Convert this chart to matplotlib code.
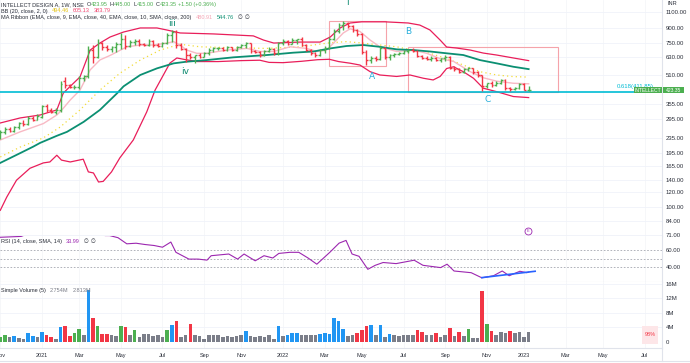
import numpy as np
import pandas as pd
import matplotlib
matplotlib.use("Agg")
import matplotlib.pyplot as plt
from matplotlib.collections import LineCollection
from matplotlib.patches import Rectangle
from matplotlib.lines import Line2D
from matplotlib.ticker import FixedLocator, FixedFormatter, NullLocator, NullFormatter

plt.rcParams['font.family'] = ['Liberation Sans', 'DejaVu Sans']

# ---------------------------------------------------------------- data
# weekly bars, first bar = week of 2020-11-02
first_week = '2020-11-02'

opens = [236, 252, 262, 254, 266, 282, 276, 300, 293, 304,
         345, 330, 322, 328, 470, 446, 436, 440, 490, 500,
         690, 632, 750, 712, 700, 715, 745, 790, 728, 760,
         770, 740, 735, 768, 735, 725, 752, 830, 860, 735,
         700, 648, 632, 645, 636, 664, 690, 705, 708, 690,
         712, 692, 715, 735, 750, 680, 672, 645, 680, 700,
         665, 750, 770, 745, 775, 785, 735, 690, 662, 645,
         690, 710, 790, 870, 935, 965, 925, 880, 840, 672,
         610, 625, 615, 705, 632, 645, 655, 665, 680, 692,
         685, 640, 628, 620, 625, 610, 622, 635, 555, 545,
         528, 545, 550, 525, 505, 445, 458, 450, 462, 478,
         430, 425, 432, 452, 423.95]
highs = [258, 266, 268, 272, 286, 290, 308, 306, 312, 352,
         356, 338, 336, 470, 495, 455, 450, 500, 510, 720,
         730, 785, 765, 735, 725, 760, 850, 830, 780, 790,
         785, 755, 790, 775, 748, 760, 850, 885, 880, 750,
         705, 665, 650, 664, 672, 705, 715, 715, 712, 725,
         718, 722, 740, 760, 755, 690, 680, 690, 712, 708,
         760, 785, 775, 795, 790, 805, 745, 700, 672, 700,
         720, 805, 890, 960, 985, 975, 935, 895, 850, 690,
         640, 640, 720, 712, 655, 662, 672, 690, 700, 705,
         692, 650, 640, 640, 632, 628, 645, 640, 565, 552,
         552, 560, 555, 530, 510, 462, 468, 470, 485, 482,
         440, 440, 458, 460, 445]
lows = [230, 244, 250, 250, 262, 272, 274, 288, 290, 300,
        322, 316, 314, 322, 432, 430, 425, 428, 470, 490,
        590, 625, 690, 680, 675, 670, 700, 700, 712, 735,
        720, 725, 728, 718, 712, 715, 745, 760, 706, 690,
        595, 620, 590, 628, 630, 648, 675, 690, 680, 685,
        680, 685, 705, 705, 665, 662, 630, 640, 672, 648,
        650, 730, 730, 738, 745, 720, 680, 650, 630, 640,
        665, 700, 780, 850, 880, 905, 860, 820, 660, 570,
        585, 605, 610, 620, 612, 630, 645, 655, 662, 675,
        630, 615, 612, 605, 602, 598, 605, 545, 535, 520,
        520, 530, 515, 495, 418, 430, 440, 445, 455, 420,
        418, 420, 428, 420, 415]
closes = [252, 262, 254, 268, 282, 276, 300, 293, 306, 345,
          330, 322, 328, 455, 446, 436, 440, 490, 500, 690,
          632, 750, 712, 700, 715, 745, 790, 728, 760, 770,
          740, 735, 768, 735, 725, 752, 830, 860, 735, 700,
          648, 632, 645, 636, 664, 690, 705, 708, 690, 712,
          692, 715, 735, 750, 680, 672, 645, 680, 700, 665,
          750, 770, 745, 775, 785, 735, 690, 662, 645, 690,
          710, 790, 870, 935, 965, 925, 880, 840, 672, 610,
          625, 615, 705, 632, 645, 655, 665, 680, 692, 685,
          640, 628, 620, 625, 610, 622, 635, 555, 545, 528,
          545, 550, 525, 505, 445, 458, 450, 462, 478, 430,
          425, 432, 452, 421.85, 423.35]

# volume in millions, colour kind: g=green r=red b=blue k=grey
vol_m = [1.3, 1.8, 1.3, 1.6, 1.2, 0.9, 2.5, 1.6, 1.3, 2.7,
         1.8, 1.3, 0.9, 4.2, 4.4, 1.6, 2.4, 3.7, 2.0, 14.4,
         6.7, 4.3, 2.2, 2.2, 1.8, 1.6, 4.4, 4.0, 2.0, 3.3,
         1.3, 2.2, 2.2, 1.6, 1.8, 1.3, 3.3, 4.6, 5.8, 1.3,
         1.8, 4.9, 1.8, 1.6, 0.9, 2.0, 1.8, 2.0, 1.3, 1.6,
         1.3, 1.6, 1.8, 3.1, 1.6, 1.3, 1.6, 1.3, 2.0, 0.9,
         4.3, 1.6, 2.0, 2.4, 2.4, 2.0, 2.0, 2.0, 1.8, 2.2,
         2.4, 2.2, 6.7, 5.7, 3.6, 1.6, 2.0, 2.5, 3.4, 4.3,
         4.6, 2.0, 4.6, 1.3, 2.2, 1.8, 1.6, 1.8, 1.8, 2.0,
         3.3, 2.8, 2.0, 1.8, 2.5, 1.3, 2.0, 3.8, 1.6, 2.7,
         1.6, 3.6, 1.2, 1.1, 14.0, 5.1, 2.9, 1.8, 2.8, 2.5,
         3.1, 2.5, 2.8, 1.3, 2.8]
vol_kind = list("ggkbkkbbkb" "rrkbrrggkb" "rgrrkkgrkg" "kkkkkkgbrk"
                "krkkkkkkkk" "kkkbkkkkkk" "bkbbbkkkkb" "bbbbbkkrrr"
                "bkbkbkkkkk" "rrkkrkkrkr" "kgkkrgrkkk" "rkkkk")

# indicator lines (bar index, value)
bb_up_x = [0, 4.3, 8.6, 12.2, 13.6, 17.2, 19.4, 21.5, 23.7, 26.6, 30.2, 33.8, 35.9, 38.8,
           46, 54.6, 56.8, 59, 64.7, 69, 71.2, 73.3, 75.5, 78, 83, 88, 90.5, 92.7,
           94.9, 96.3, 98.5, 101.4, 104.2, 107.1, 110.7, 114]
bb_up_y = [281, 299, 310, 330, 406, 495, 689, 751, 809, 860, 904, 904, 882, 850,
           840, 820, 779, 751, 760, 760, 809, 904, 961, 975, 975, 961, 937, 882,
           779, 715, 706, 689, 664, 648, 625, 605]
bb_dn_x = [0, 1.4, 3.5, 6.4, 9.3, 10.7, 12.2, 13.2, 15.1, 17.9, 19, 20.1, 21.2, 22.2, 24,
           25.8, 28.7, 31.6, 33.4, 36.6, 38.1, 40, 42.5, 47, 52, 56, 58, 61, 65, 68.5,
           71, 73, 75.5, 77.6, 79.8, 81.9, 85.5, 88.4, 91.3, 93.4, 94.9, 96.3, 97.8,
           99.9, 102.1, 104.2, 107.1, 110.7, 114]
bb_dn_y = [96, 113, 139, 161, 172, 174, 189, 178, 174, 180, 154, 152, 136, 137, 154,
           183, 228, 322, 421, 587, 625, 612, 598, 598, 605, 608, 592, 590, 600, 612,
           615, 598, 586, 573, 528, 507, 498, 507, 487, 477, 498, 549, 561,
           528, 487, 431, 413, 389, 384]
bb_mid_x = [0, 4.3, 9.3, 12.9, 17.2, 21.5, 25.8, 30.2, 34.5, 38.8, 43.1, 50.3, 57.5, 64.7,
            71.2, 74.7, 78.3, 81.9, 85.5, 89.1, 92.7, 96.3, 99.9, 103.5, 107.1, 110.7, 114]
bb_mid_y = [185, 209, 234, 267, 330, 421, 518, 609, 689, 740, 717, 709, 703, 717,
            754, 764, 750, 733, 717, 689, 662, 620, 573, 528, 507, 497, 494]
ema9_x = [0, 4.3, 9.3, 12.2, 13.3, 15.1, 17.2, 19.4, 21.5, 23.7, 27.3, 30.2, 33, 35.9, 37.4,
          38.8, 40.2, 42.4, 44.5, 48.9, 53.2, 56.1, 59, 62.5, 66.1, 68.3, 70.4, 71.9, 74,
          75.5, 77.6, 79.8, 81.9, 85.5, 89.1, 92, 94.9, 97.8, 101.4, 104.2, 107.1, 110.7, 114]
ema9_y = [228, 252, 279, 310, 330, 373, 421, 540, 610, 645, 717, 733, 733, 750, 764,
          733, 689, 662, 662, 689, 703, 677, 677, 717, 703, 677, 689, 750, 850,
          895, 866, 779, 717, 677, 689, 662, 620, 599, 528, 490, 470, 458, 455]
ema40_x = [0, 4.3, 7.1, 8.6, 12.2, 14.4, 18, 21.5, 25.2, 26.6, 30.2, 33.8, 37.4, 40.2, 44.5,
           50.3, 57.5, 63.2, 67.6, 71.2, 74.7, 78.3, 81.9, 85.5, 89.1, 92.7, 96.3, 99.9,
           103.5, 107.1, 110.7, 114]
ema40_y = [172, 194, 210, 220, 240, 252, 285, 330, 405, 441, 507, 550, 585, 597, 609,
           630, 648, 667, 677, 703, 724, 733, 717, 695, 689, 677, 662, 648,
           609, 585, 561, 545]
rsi_x = [0, 4.5, 7.3, 12.2, 18.7, 22.6, 23.6, 25.4, 27.3, 29.3, 31.2, 33.2, 35, 36.8, 37.9,
         40.7, 42.7, 44.6, 45.5, 49.3, 51.2, 52.6, 55, 56.9, 58.8, 60.1, 62.5, 64.4, 66.4,
         68.3, 71.1, 73.1, 74.6, 75.9, 77.4, 79.3, 80.9, 82.6, 85.4, 89.3, 91.2, 95, 96.4,
         97.9, 101.6, 103.9, 106.4, 108.3, 109.8, 112.1, 113.6, 114]
rsi_y = [75, 76, 82, 85, 88, 77, 77, 74.5, 67.3, 68, 66.5, 65.3, 63.3, 69.4, 57.3,
         49.3, 49.3, 48.1, 53.3, 55.3, 49.3, 55.3, 47.3, 53.3, 50.6, 56, 57.3, 57.3, 50.6,
         43.3, 57.3, 68.1, 71.3, 55.3, 52.6, 37.3, 42, 45.3, 44, 48, 42, 39.3, 43.3,
         35.3, 33.3, 27.3, 29.7, 35.3, 29.7, 35, 33.3, 33.99]

fib_level = 411.85
price_ticks = [1100, 900, 750, 630, 510, 355, 295, 235, 195, 165, 140, 120, 100, 84, 71]

# ---------------------------------------------------------------- style
W, H = 690, 363
GREEN, RED, BLUE, GREY = '#4caf50', '#f23645', '#2196f3', '#7b7e89'
BBC, YEL, EMA9C, EMA40C = '#e91e5a', '#f2dc3a', '#f8b9c4', '#0b8f72'
CYAN, PURPLE, TXT, SEP = '#00bcd4', '#9c27b0', '#2a2e39', '#e0e3eb'
WAVE_G, WAVE_B = '#0d8a70', '#27aedb'


def fx(px):
    return px / W


def fy(py):
    return 1 - py / H


fig = plt.figure(figsize=(W / 100, H / 100), dpi=100)
fig.patch.set_facecolor('white')
ax_p = fig.add_axes([0, fy(236), fx(662), 236 / H])
ax_r = fig.add_axes([0, fy(282), fx(662), 46 / H], sharex=ax_p)
ax_v = fig.add_axes([0, fy(348), fx(662), 66 / H], sharex=ax_p)

start = pd.Timestamp(first_week)
months = pd.date_range('2020-11-01', '2023-07-01', freq='2MS')
tick_pos, tick_lab = [], []
for m in months:
    d = m + pd.Timedelta(days=(7 - m.weekday()) % 7)
    tick_pos.append((d - start).days / 7)
    tick_lab.append(str(m.year) if m.month == 1 else m.strftime('%b'))

for ax in (ax_p, ax_r, ax_v):
    for s in ('top', 'left'):
        ax.spines[s].set_visible(False)
    for s in ('right', 'bottom'):
        ax.spines[s].set_color(SEP)
        ax.spines[s].set_linewidth(0.8)
    ax.yaxis.tick_right()
    ax.tick_params(axis='both', length=0, labelsize=4.3, labelcolor=TXT, pad=2.9)
    for p in tick_pos:
        ax.axvline(p, color='#f3f4f7', lw=0.5, zorder=0)

ax_p.set_xlim(-0.06, 142.77)
ax_p.tick_params(labelbottom=False)
ax_r.tick_params(labelbottom=False)
ax_v.set_xticks(tick_pos)
ax_v.set_xticklabels(tick_lab)
ax_v.tick_params(axis='x', labelsize=4.0, pad=3.5)

# ---------------------------------------------------------------- price pane
ax_p.set_yscale('log')
ax_p.set_ylim(70.0, 1275)
ax_p.yaxis.set_major_locator(FixedLocator(price_ticks))
ax_p.yaxis.set_major_formatter(FixedFormatter([f'{v:.2f}' for v in price_ticks]))
ax_p.yaxis.set_minor_locator(NullLocator())
ax_p.yaxis.set_minor_formatter(NullFormatter())
for v in price_ticks:
    ax_p.axhline(v, color='#f0f3fa', lw=0.6, zorder=0)

o, h, l, c = map(np.array, (opens, highs, lows, closes))
idx = np.arange(len(c))
prev = np.r_[o[0], c[:-1]]
up = c >= prev
tk = 0.4
segs, cols = [], []
for i in idx:
    col = GREEN if up[i] else RED
    segs += [[(i, l[i]), (i, h[i])], [(i - tk, o[i]), (i, o[i])], [(i, c[i]), (i + tk, c[i])]]
    cols += [col] * 3
ax_p.add_collection(LineCollection(segs, colors=cols, linewidths=1.0, capstyle='butt', zorder=4))

ax_p.plot(bb_up_x, bb_up_y, color=BBC, lw=0.9, zorder=3)
ax_p.plot(bb_dn_x, bb_dn_y, color=BBC, lw=0.9, zorder=3)
ax_p.plot(bb_mid_x, bb_mid_y, color=YEL, lw=0.9, ls=(0, (1, 2.5)), zorder=3)
ax_p.plot(ema9_x, ema9_y, color=EMA9C, lw=1.0, zorder=3)
ax_p.plot(ema40_x, ema40_y, color=EMA40C, lw=1.3, zorder=3)
ax_p.axhline(fib_level, color=CYAN, lw=1.2, zorder=3)

for x0, x1, y0, y1 in [(70.9, 83.2, 566, 985), (88.0, 120.3, fib_level, 715)]:
    ax_p.add_patch(Rectangle((x0, y0), x1 - x0, y1 - y0, fill=False,
                             ec='#f5a3aa', lw=0.8, zorder=2))

for s, x, y, col in [('I', 74.8, 1229, WAVE_G), ('iii', 37.0, 953, WAVE_G),
                     ('iv', 39.9, 532, WAVE_G), ('A', 80.1, 497, WAVE_B),
                     ('B', 88.0, 867, WAVE_B), ('C', 105.1, 377, WAVE_B)]:
    ax_p.text(x, y, s, color=col, fontsize=6.5, ha='center', va='center',
              family='DejaVu Sans', zorder=6)

ax_p.plot([113.9], [74.4], marker='o', ms=5, mfc='white', mec=PURPLE, mew=0.6, zorder=6)
ax_p.text(113.9, 74.4, 'E', color=PURPLE, fontsize=2.8, ha='center', va='center', zorder=7)

# ---------------------------------------------------------------- RSI pane
ax_r.set_ylim(22.35, 76.5)
ax_r.set_yticks([60, 40])
ax_r.set_yticklabels(['60.00', '40.00'])
for v in (60, 50, 40):
    ax_r.axhline(v, color='#a3a6af', lw=0.6, ls=(0, (2, 2)))
ax_r.plot(rsi_x, rsi_y, color=PURPLE, lw=0.8)
ax_r.plot([103.9, 115.4], [27.5, 35], color='#2962ff', lw=1.2)

# ---------------------------------------------------------------- volume pane
kind_col = {'g': GREEN, 'r': RED, 'b': BLUE, 'k': GREY}
ax_v.bar(idx, np.array(vol_m) * 1e6, width=0.78, color=[kind_col[k] for k in vol_kind], zorder=2)
ax_v.set_ylim(-1.655e6, 16.55e6)
vt = [0, 4e6, 8e6, 12e6, 16e6]
ax_v.set_yticks(vt)
ax_v.set_yticklabels(['0', '4M', '8M', '12M', '16M'])
for v in vt[1:]:
    ax_v.axhline(v, color='#f0f3fa', lw=0.6, zorder=0)

# ---------------------------------------------------------------- overlay texts
fig.canvas.draw()
rend = fig.canvas.get_renderer()


def row(x, y, pieces, size=4.0):
    for s, col, gap in pieces:
        t = fig.text(fx(x), fy(y), s, color=col, fontsize=size, ha='left', va='center', zorder=8)
        x += t.get_window_extent(renderer=rend).width + gap


row(1, 4.5, [('INTELLECT DESIGN A, 1W, NSE', TXT, 3), ('O', TXT, 0), ('423.95', GREEN, 2),
             ('H', TXT, 0), ('445.00', GREEN, 2), ('L', TXT, 0), ('415.00', GREEN, 2),
             ('C', TXT, 0), ('423.35', GREEN, 2), ('+1.50 (+0.36%)', GREEN, 0)])
row(1, 11.0, [('BB (20, close, 2, 0)', TXT, 4), ('494.46', '#e3c318', 4),
              ('605.13', '#f0476f', 4), ('383.79', '#f0476f', 0)])
row(1, 17.5, [('MA Ribbon (EMA, close, 9, EMA, close, 40, EMA, close, 10, SMA, close, 200)', TXT, 4),
              ('480.91', '#f4a5b5', 4), ('544.76', EMA40C, 4), ('\u2205', TXT, 2), ('\u2205', TXT, 0)])
row(1, 241.5, [('RSI (14, close, SMA, 14)', TXT, 4), ('33.99', PURPLE, 4),
               ('\u2205', TXT, 2), ('\u2205', TXT, 0)])
row(1, 290.5, [('Simple Volume (5)', TXT, 4), ('2.754M', '#787b86', 4), ('2.813M', '#787b86', 0)])

fig.text(fx(667), fy(3.5), 'INR', fontsize=4.0, color=TXT, va='center', ha='left')
fig.text(fx(617), fy(86.5), '0.618(411.85)', fontsize=4.3, color=CYAN, va='center', ha='left', zorder=5)

for x0, x1, s in [(634, 662, 'INTELLECT'), (663, 684, '423.35')]:
    fig.add_artist(Rectangle((fx(x0), fy(93.3)), fx(x1) - fx(x0), 6 / H, transform=fig.transFigure,
                             fc=GREEN, ec='none', zorder=9))
    fig.text(fx((x0 + x1) / 2), fy(90.3), s, fontsize=3.6, color='white', ha='center', va='center', zorder=10)

fig.add_artist(Rectangle((fx(642), fy(344)), 16 / W, 18 / H, transform=fig.transFigure,
                         fc='#fde6e8', ec='none', zorder=9))
fig.text(fx(650), fy(335), '98%', fontsize=4.0, color=RED, ha='center', va='center', zorder=10)

fig.add_artist(Line2D([fx(662), fx(662)], [fy(348), fy(361)], transform=fig.transFigure, color=SEP, lw=0.8))
fig.add_artist(Line2D([0, 1], [fy(360.5), fy(360.5)], transform=fig.transFigure, color=SEP, lw=0.8))

fig.savefig('out.png', dpi=100)
